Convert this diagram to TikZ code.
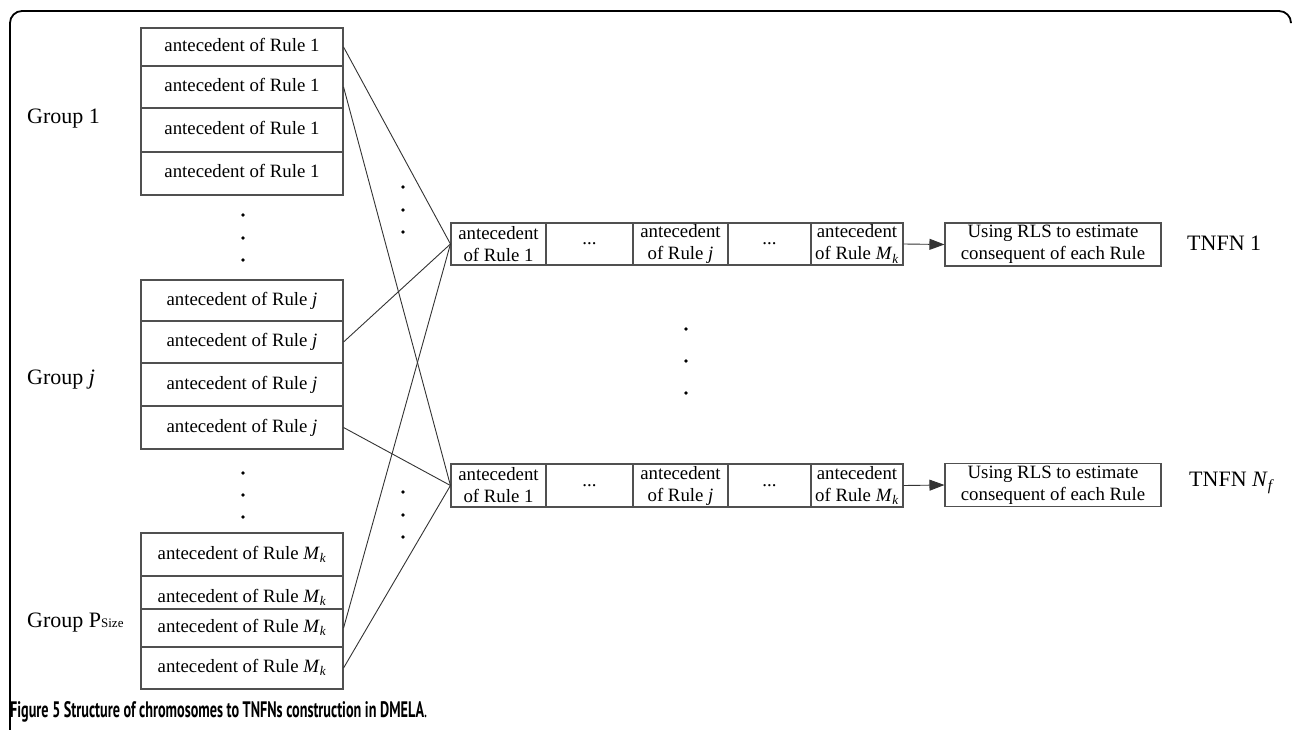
\documentclass[tikz,border=0pt]{standalone}
\usepackage{fontspec}
\usepackage{graphicx}
\setmainfont{Liberation Serif}
\newfontfamily\capfont{PT Sans}
\usetikzlibrary{arrows.meta}
\definecolor{boxline}{HTML}{505050}
\tikzset{
  abox/.style={draw=boxline, line width=1.1pt, rectangle, inner sep=0pt, minimum width=202pt,
    font=\fontsize{18.8}{22}\selectfont, text height=13pt, text depth=4pt},
  cell/.style={draw=boxline, line width=1.1pt, rectangle, inner sep=0pt, minimum height=42pt,
    align=center, font=\fontsize{18.8}{22}\selectfont},
  rls/.style={draw=boxline, line width=1.1pt, rectangle, inner sep=0pt, minimum width=216pt,
    minimum height=43pt, align=center, font=\fontsize{18.8}{22}\selectfont},
  glabel/.style={anchor=west, inner sep=0pt, font=\fontsize{22}{26}\selectfont},
  tlabel/.style={anchor=west, inner sep=0pt, font=\fontsize{22}{26}\selectfont},
  conn/.style={draw=black!80, line width=0.9pt},
  dotn/.style={circle, fill=black, inner sep=0pt, minimum size=3.6pt},
}
\begin{document}
\begin{tikzpicture}[x=1pt,y=-1pt]
\useasboundingbox (0,0) rectangle (1293,730);
% frame
\draw[line width=1.8pt, rounded corners=12pt] (10,740) -- (10,11) -- (1291,11) -- (1291,22);

% Group 1
\node[abox, minimum height=38pt] (g1a) at (242,47) {antecedent of Rule 1};
\node[abox, minimum height=42pt] (g1b) at (242,87) {antecedent of Rule 1};
\node[abox, minimum height=44pt] (g1c) at (242,130) {antecedent of Rule 1};
\node[abox, minimum height=43pt] (g1d) at (242,173.5) {antecedent of Rule 1};
% Group j
\node[abox, minimum height=41pt] (gja) at (242,300.5) {antecedent of Rule \textit{j}};
\node[abox, minimum height=42pt] (gjb) at (242,342) {antecedent of Rule \textit{j}};
\node[abox, minimum height=43pt] (gjc) at (242,384.5) {antecedent of Rule \textit{j}};
\node[abox, minimum height=43pt] (gjd) at (242,427.5) {antecedent of Rule \textit{j}};
% Group P
\node[abox, minimum height=43pt] (gpa) at (242,554.5) {antecedent of Rule \textit{M}\textsubscript{\textit{k}}};
\node[abox, minimum height=33pt] (gpb) at (242,592.5) {};
\node[font=\fontsize{18.8}{22}\selectfont, inner sep=0pt] (gpbt) at (242,597) {antecedent of Rule \textit{M}\textsubscript{\textit{k}}};
\node[abox, minimum height=38pt] (gpc) at (242,628) {antecedent of Rule \textit{M}\textsubscript{\textit{k}}};
\node[abox, minimum height=42pt] (gpd) at (242,668) {antecedent of Rule \textit{M}\textsubscript{\textit{k}}};

% group labels
\node[glabel] (lg1) at (27,119) {Group 1};
\node[glabel] (lgj) at (27,380) {Group \textit{j}};
\node[glabel] (lgp) at (27,623) {Group P{\fontsize{13}{15}\selectfont Size}};

% TNFN 1 row
\node[cell, minimum width=95pt] (r1c1) at (498.5,244) {antecedent\\of Rule 1};
\node[cell, minimum width=87pt] (r1c2) at (589.5,244) {...};
\node[cell, minimum width=95pt] (r1c3) at (680.5,244) {antecedent\\of Rule \textit{j}};
\node[cell, minimum width=83pt] (r1c4) at (769.5,244) {...};
\node[cell, minimum width=92pt] (r1c5) at (857,244) {antecedent\\of Rule \textit{M}\textsubscript{\textit{k}}};
\node[rls] (rls1) at (1053,244.5) {Using RLS to estimate\\consequent of each Rule};
\node[tlabel] (t1) at (1187,243) {TNFN 1};
% TNFN Nf row
\node[cell, minimum width=95pt, minimum height=43pt] (r2c1) at (498.5,485.5) {antecedent\\of Rule 1};
\node[cell, minimum width=87pt, minimum height=43pt] (r2c2) at (589.5,485.5) {...};
\node[cell, minimum width=95pt, minimum height=43pt] (r2c3) at (680.5,485.5) {antecedent\\of Rule \textit{j}};
\node[cell, minimum width=83pt, minimum height=43pt] (r2c4) at (769.5,485.5) {...};
\node[cell, minimum width=92pt, minimum height=43pt] (r2c5) at (857,485.5) {antecedent\\of Rule \textit{M}\textsubscript{\textit{k}}};
\node[rls] (rls2) at (1053,485) {Using RLS to estimate\\consequent of each Rule};
\node[tlabel] (t2) at (1189,483) {TNFN \textit{N}\textsubscript{\textit{f}}};

% arrows
\draw[conn, -{Triangle[length=15pt,width=11pt]}] (r1c5.east) -- (rls1.west);
\draw[conn, -{Triangle[length=15pt,width=11pt]}] (r2c5.east) -- (rls2.west);

% connectors
\draw[conn] (g1a.east) -- (r1c1.west);
\draw[conn] (g1b.east) -- (r2c1.west);
\draw[conn] (gjb.east) -- (r1c1.west);
\draw[conn] (gjd.east) -- (r2c1.west);
\draw[conn] (gpc.east) -- (r1c1.west);
\draw[conn] (gpd.east) -- (r2c1.west);

% dots
\foreach \i/\x/\y in {a/243/215, b/243/238, c/243/260, d/243/473, e/243/495, f/243/517,
  g/403/187, h/403/210, i/403/232, j/403/492, k/403/515, l/403/537,
  m/686/329, n/686/361, o/686/393}
  \node[dotn] (dot\i) at (\x,\y) {};

% caption
\node[anchor=base west, inner sep=0pt] (cap) at (10,717)
  {\resizebox{417pt}{16pt}{\capfont\bfseries Figure 5 Structure of chromosomes to TNFNs construction in DMELA\mdseries .}};
\end{tikzpicture}
\end{document}
